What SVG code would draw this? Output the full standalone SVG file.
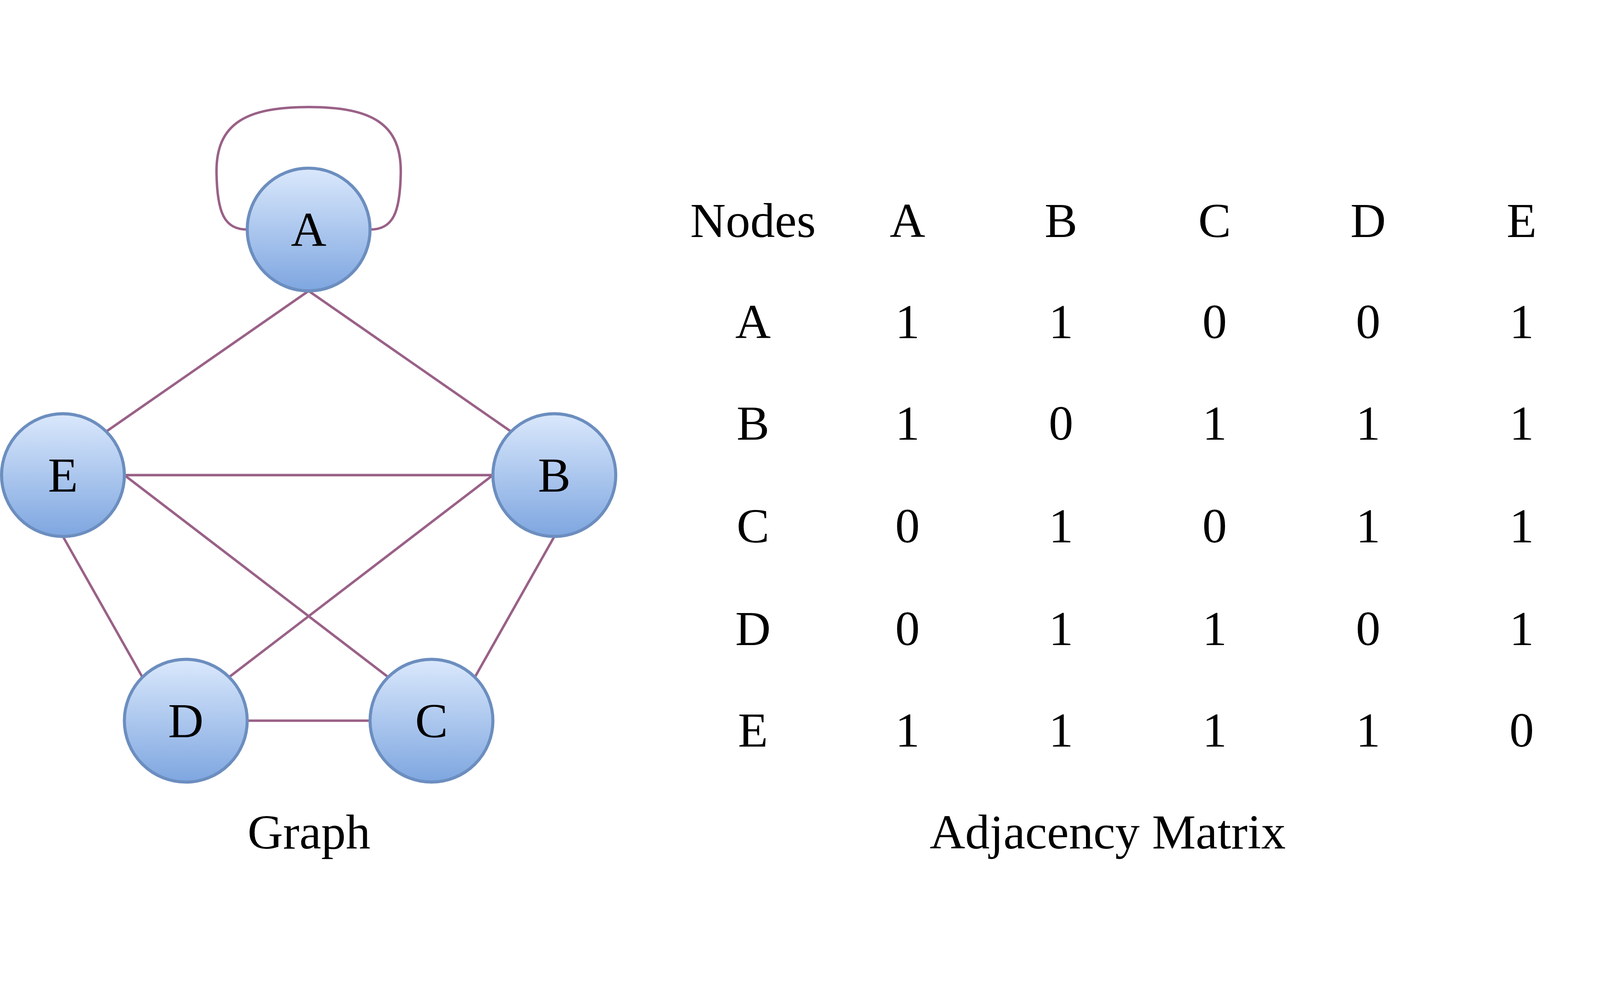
<svg xmlns="http://www.w3.org/2000/svg" width="5210" height="2520" viewBox="0 0 5210 2520" preserveAspectRatio="xMidYMid meet">
<defs>
<linearGradient id="nodeFill" x1="0" y1="0" x2="0" y2="1">
<stop offset="0" stop-color="#dae8fc"/>
<stop offset="1" stop-color="#7ea6e0"/>
</linearGradient>
<style>
svg:root{width:100%;height:100%}
.edge{stroke:#9a6187;stroke-width:8;fill:none}
.node{fill:url(#nodeFill);stroke:#6c8ebf;stroke-width:10}
.lbl{font-family:"Liberation Serif","Times New Roman",serif;font-size:160px;fill:#000;text-anchor:middle}
</style>
</defs>
<rect width="5210" height="2520" fill="#ffffff"/>
<g id="connectors">
<path class="edge" d="M 805 405 C 730 405, 707 350, 705 220 C 703 60, 800 6, 1005 6 C 1210 6, 1307 60, 1305 220 C 1303 350, 1280 405, 1205 405"/>
<line class="edge" x1="1005" y1="605" x2="346" y2="1063"/>
<line class="edge" x1="1005" y1="605" x2="1664" y2="1063"/>
<line class="edge" x1="405" y1="1205" x2="1605" y2="1205"/>
<line class="edge" x1="405" y1="1205" x2="1264" y2="1863"/>
<line class="edge" x1="746" y1="1863" x2="1605" y2="1205"/>
<line class="edge" x1="205" y1="1405" x2="463" y2="1862"/>
<line class="edge" x1="1805" y1="1405" x2="1547" y2="1862"/>
<line class="edge" x1="805" y1="2005" x2="1205" y2="2005"/>
</g>
<g id="node-A"><circle class="node" cx="1005" cy="405" r="200"/><text class="lbl" x="1005" y="459">A</text></g>
<g id="node-B"><circle class="node" cx="1805" cy="1205" r="200"/><text class="lbl" x="1805" y="1259">B</text></g>
<g id="node-C"><circle class="node" cx="1405" cy="2005" r="200"/><text class="lbl" x="1405" y="2059">C</text></g>
<g id="node-D"><circle class="node" cx="605" cy="2005" r="200"/><text class="lbl" x="605" y="2059">D</text></g>
<g id="node-E"><circle class="node" cx="205" cy="1205" r="200"/><text class="lbl" x="205" y="1259">E</text></g>
<g id="caption-graph"><text class="lbl" x="1006" y="2421">Graph</text></g>
<g id="matrix">
<text class="lbl" x="2452" y="430">Nodes</text>
<text class="lbl" x="2955" y="430">A</text>
<text class="lbl" x="3455" y="430">B</text>
<text class="lbl" x="3955" y="430">C</text>
<text class="lbl" x="4455" y="430">D</text>
<text class="lbl" x="4955" y="430">E</text>

<text class="lbl" x="2452" y="759">A</text>
<text class="lbl" x="2955" y="759">1</text>
<text class="lbl" x="3455" y="759">1</text>
<text class="lbl" x="3955" y="759">0</text>
<text class="lbl" x="4455" y="759">0</text>
<text class="lbl" x="4955" y="759">1</text>

<text class="lbl" x="2452" y="1090">B</text>
<text class="lbl" x="2955" y="1090">1</text>
<text class="lbl" x="3455" y="1090">0</text>
<text class="lbl" x="3955" y="1090">1</text>
<text class="lbl" x="4455" y="1090">1</text>
<text class="lbl" x="4955" y="1090">1</text>

<text class="lbl" x="2452" y="1424">C</text>
<text class="lbl" x="2955" y="1424">0</text>
<text class="lbl" x="3455" y="1424">1</text>
<text class="lbl" x="3955" y="1424">0</text>
<text class="lbl" x="4455" y="1424">1</text>
<text class="lbl" x="4955" y="1424">1</text>

<text class="lbl" x="2452" y="1759">D</text>
<text class="lbl" x="2955" y="1759">0</text>
<text class="lbl" x="3455" y="1759">1</text>
<text class="lbl" x="3955" y="1759">1</text>
<text class="lbl" x="4455" y="1759">0</text>
<text class="lbl" x="4955" y="1759">1</text>

<text class="lbl" x="2452" y="2089">E</text>
<text class="lbl" x="2955" y="2089">1</text>
<text class="lbl" x="3455" y="2089">1</text>
<text class="lbl" x="3955" y="2089">1</text>
<text class="lbl" x="4455" y="2089">1</text>
<text class="lbl" x="4955" y="2089">0</text>
</g>
<g id="caption-matrix"><text class="lbl" x="3607" y="2421">Adjacency Matrix</text></g>
</svg>
